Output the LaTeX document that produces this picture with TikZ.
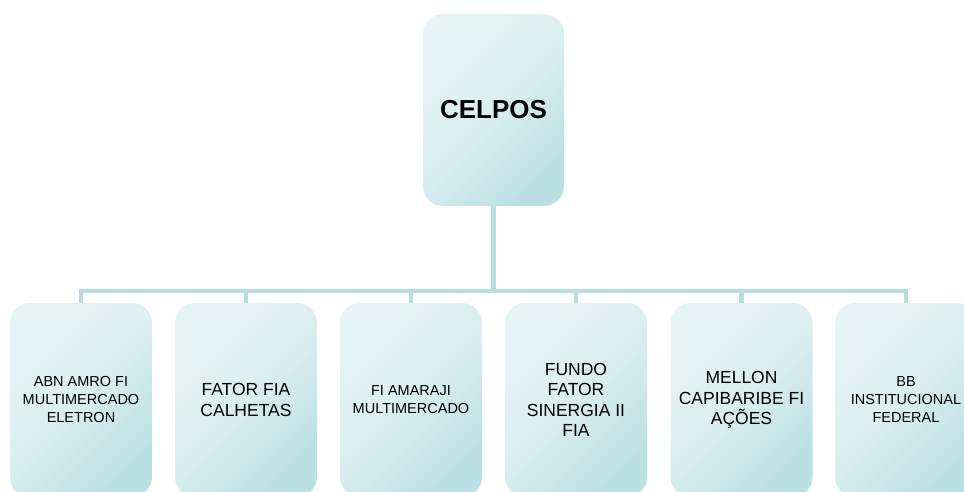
\documentclass[tikz,border=0pt]{standalone}
\usepackage{fontspec}
\setmainfont{Liberation Sans}
\definecolor{boxlight}{RGB}{231,244,245}
\definecolor{boxmid}{RGB}{218,238,240}
\definecolor{boxdark}{RGB}{186,224,228}
\definecolor{linec}{RGB}{183,222,226}
\tikzset{
  orgbox/.style={rounded corners=20pt, top color=boxlight, bottom color=boxdark, middle color=boxmid, shading angle=45, align=center, inner sep=0pt, text=black},
  childbox/.style={orgbox, minimum width=142pt, minimum height=194pt},
  small/.style={font=\fontsize{14.5}{18}\selectfont},
  large/.style={font=\fontsize{17.5}{20.5}\selectfont},
  conn/.style={draw=linec, line width=4.5pt}
}
\begin{document}
\begin{tikzpicture}[x=1pt,y=1pt]
\useasboundingbox (0,0) rectangle (964,491);
\clip (0,0) rectangle (964,491);
\node[orgbox, minimum width=141pt, minimum height=192pt, font=\bfseries\fontsize{26}{30}\selectfont] (top) at (493.5,381) {CELPOS};
\coordinate (bar) at (493.5,200);
\node[childbox, small] (c1) at (81,91) {ABN AMRO FI\\MULTIMERCADO\\ELETRON};
\node[childbox, large] (c2) at (246,91) {FATOR FIA\\CALHETAS};
\node[childbox, small] (c3) at (411,91) {FI AMARAJI\\MULTIMERCADO};
\node[childbox, large] (c4) at (576,91) {FUNDO\\FATOR\\SINERGIA II\\FIA};
\node[childbox, large] (c5) at (741.5,91) {MELLON\\CAPIBARIBE FI\\AÇÕES};
\node[childbox, small] (c6) at (906,91) {BB\\INSTITUCIONAL\\FEDERAL};
\draw[conn] (top.south) -- (bar);
\foreach \c in {c1,c2,c3,c4,c5,c6} {
  \draw[conn] (bar) -| (\c.north);
}
\end{tikzpicture}
\end{document}
